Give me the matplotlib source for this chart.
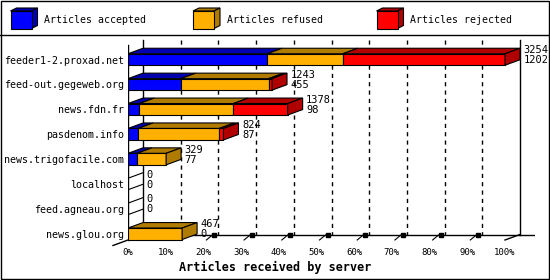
import matplotlib
matplotlib.use('Agg')
import matplotlib.pyplot as plt
from matplotlib.patches import Polygon, Rectangle

# Articles per server (counts)
servers = ["feeder1-2.proxad.net", "feed-out.gegeweb.org", "news.fdn.fr",
           "pasdenom.info", "news.trigofacile.com", "localhost",
           "feed.agneau.org", "news.glou.org"]
accepted = [1202, 455, 98, 87, 77, 0, 0, 0]
refused = [652, 759, 811, 701, 252, 0, 0, 467]
rejected = [1400, 29, 469, 36, 0, 0, 0, 0]
legend_labels = ["Articles accepted", "Articles refused", "Articles rejected"]
x_ticks = [0, 10, 20, 30, 40, 50, 60, 70, 80, 90, 100]

FRONT = ["#0000ff", "#ffb000", "#ff0000"]
DARK = ["#0000b0", "#b07c00", "#b00000"]
MONO = "DejaVu Sans Mono"

W, H = 550, 280
fig = plt.figure(figsize=(W / 100, H / 100), dpi=100)

# background layer in pixels: frame + legend
bg = fig.add_axes([0, 0, 1, 1])
bg.set_xlim(0, W)
bg.set_ylim(H, 0)
bg.axis('off')
bg.add_patch(Rectangle((0.5, 0.5), W - 1.5, H - 1.5, fill=False, lw=1, ec='black'))
bg.plot([0, W], [35, 35], color='black', lw=1)
for lab, lx, fc, dc in zip(legend_labels, [10.5, 193, 376.5], FRONT, DARK):
    bg.add_patch(Polygon([(lx, 11), (lx + 21, 11), (lx + 27, 8), (lx + 6, 8)],
                         closed=True, fc=dc, ec='black', lw=0.8))
    bg.add_patch(Polygon([(lx + 21, 11), (lx + 21, 28.5), (lx + 27, 25.5), (lx + 27, 8)],
                         closed=True, fc=dc, ec='black', lw=0.8))
    bg.add_patch(Rectangle((lx, 11), 21, 17.5, fc=fc, ec='black', lw=0.8))
    bg.text(lx + 34, 20, lab, family=MONO, fontsize=7.1, va='center', ha='left')

# main plot: x in percent of the biggest server, y in category index
AX_L, AX_R, AX_T, AX_B = 128, 535, 35, 245
PX_PCT = 3.77
C0, STEP = 59.5, 24.9
ax = fig.add_axes([AX_L / W, (H - AX_B) / H, (AX_R - AX_L) / W, (AX_B - AX_T) / H])
ax.patch.set_visible(False)
xmax = (AX_R - AX_L) / PX_PCT
ax.set_xlim(0, xmax)
ax.set_ylim((AX_B - C0) / STEP, (AX_T - C0) / STEP)
for s in ax.spines.values():
    s.set_visible(False)

px_x = 1 / PX_PCT
px_y = 1 / STEP
DX = 15 * px_x
DY = -5.5 * px_y
HALF = 5.75 * px_y

front_top = (45 - C0) / STEP
front_bot = (240 - C0) / STEP
back_top = front_top + DY
back_bot = front_bot + DY

line = dict(color='black', lw=1, zorder=1)
ax.plot([DX, DX], [back_top, back_bot], **line)
ax.plot([100 + DX, 100 + DX], [back_top, back_bot], **line)
ax.plot([DX, xmax], [back_bot, back_bot], **line)
ax.plot([0, 0], [front_top, front_bot], **line)
ax.plot([0, -DX], [front_bot, front_bot - DY], clip_on=False, **line)
ax.plot([100, 100 + DX], [front_bot, back_bot], **line)
for t in x_ticks[1:-1]:
    ax.plot([t + DX, t + DX], [back_top, back_bot], color='black', lw=1,
            dashes=(3, 3), zorder=1)
    ax.plot([t + 3 * px_x, t + 9 * px_x], [front_bot, back_bot + 0.5 * px_y],
            color='black', lw=0.8, zorder=1)
    ax.plot([t + 11 * px_x], [back_bot + 0.5 * px_y], marker='s', ms=2.2,
            color='black', zorder=1)

totals = [a + r + j for a, r, j in zip(accepted, refused, rejected)]
biggest = max(totals)
for i in range(len(servers)):
    vals = [accepted[i], refused[i], rejected[i]]
    top, bot = i - HALF, i + HALF
    if totals[i] == 0:
        ax.plot([0, DX], [top, top + DY], color='black', lw=0.8, zorder=3)
        ax.plot([0, DX], [bot, bot + DY], color='black', lw=0.8, zorder=3)
    x0 = 0
    last = None
    for k, v in enumerate(vals):
        if v == 0:
            continue
        x1 = x0 + v / biggest * 100
        ax.add_patch(Polygon([(x0, top), (x1, top), (x1 + DX, top + DY), (x0 + DX, top + DY)],
                             closed=True, fc=DARK[k], ec='black', lw=0.8, zorder=3))
        ax.add_patch(Rectangle((x0, top), x1 - x0, bot - top, fc=FRONT[k],
                               ec='black', lw=0.8, zorder=3))
        last = (x1, k)
        x0 = x1
    if last is not None:
        x1, k = last
        ax.add_patch(Polygon([(x1, top), (x1, bot), (x1 + DX, bot + DY), (x1 + DX, top + DY)],
                             closed=True, fc=DARK[k], ec='black', lw=0.8, zorder=3))
    end = totals[i] / biggest * 100 + DX + 3.5 * px_x
    ax.text(end, i - 9.5 * px_y, str(totals[i]), family=MONO, fontsize=7.5,
            va='center', ha='left', clip_on=False, zorder=4)
    ax.text(end, i + 0.5 * px_y, str(accepted[i]), family=MONO, fontsize=7.5,
            va='center', ha='left', clip_on=False, zorder=4)

ax.set_yticks(range(len(servers)))
ax.set_yticklabels(servers, family=MONO, fontsize=7.2)
ax.set_xticks(x_ticks)
ax.set_xticklabels([f"{t}%" for t in x_ticks], family=MONO, fontsize=6.5)
ax.tick_params(axis='y', length=0, pad=2.9)
ax.tick_params(axis='x', length=0, pad=2.5)

fig.text(0.5, 1 - 267 / H, "Articles received by server", family=MONO,
         fontsize=8.5, fontweight='bold', ha='center', va='center')

fig.savefig('out.png', dpi=100)
